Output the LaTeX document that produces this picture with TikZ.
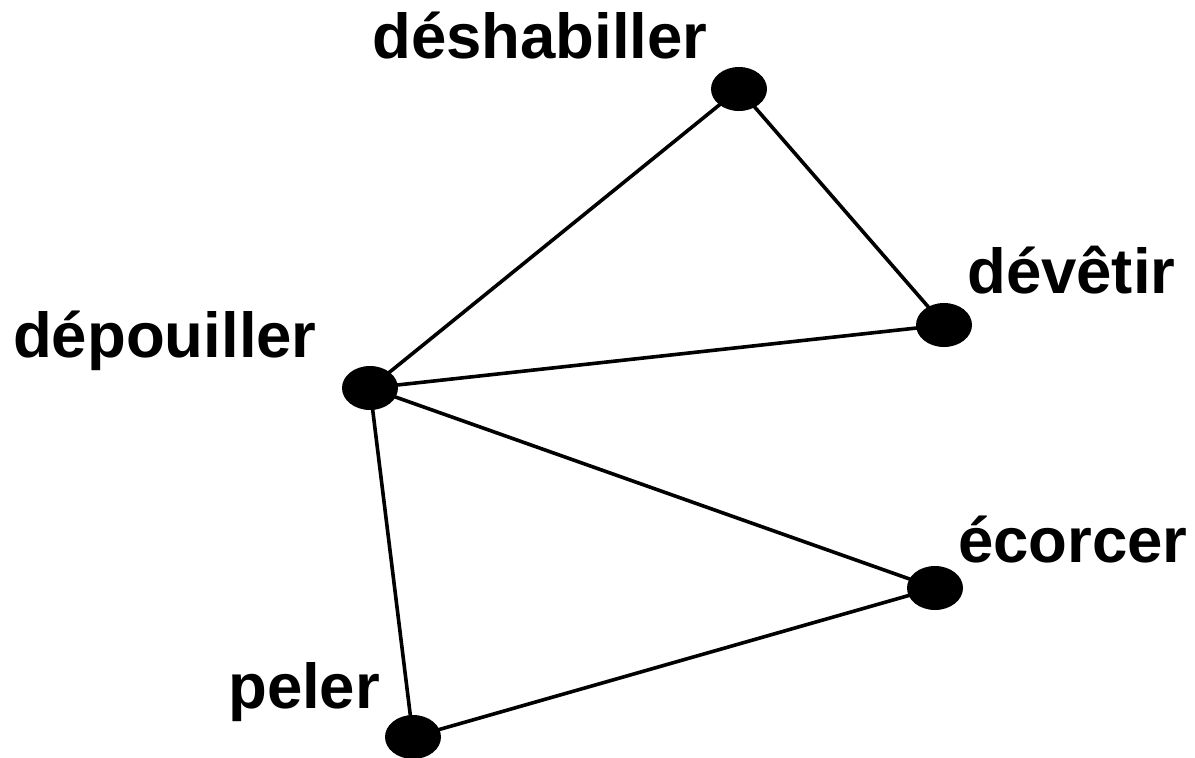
\documentclass[tikz,border=0pt]{standalone}
\usepackage{fontspec}
\setmainfont{Liberation Sans}
\usetikzlibrary{shapes.geometric}
\begin{document}
\begin{tikzpicture}[x=1pt,y=-1pt,
  vertex/.style={ellipse,fill=black,draw=none,minimum width=56pt,minimum height=44pt,inner sep=0pt},
  word/.style={anchor=base west,inner sep=0pt,font=\fontsize{63.5}{72}\selectfont\bfseries},
  edge/.style={line width=3.6pt}]
\useasboundingbox (0,0) rectangle (1195,758);
\node[vertex] (desh) at (739,89) {};
\node[vertex] (devt) at (944,325) {};
\node[vertex] (depo) at (370,388) {};
\node[vertex] (ecor) at (935,588) {};
\node[vertex] (pele) at (413,737) {};
\draw[edge] (depo.center) -- (desh.center);
\draw[edge] (desh.center) -- (devt.center);
\draw[edge] (depo.center) -- (devt.center);
\draw[edge] (depo.center) -- (ecor.center);
\draw[edge] (depo.center) -- (pele.center);
\draw[edge] (pele.center) -- (ecor.center);
\node[word] (ldesh) at (372,58) {déshabiller};
\node[word] (ldepo) at (13,357) {dépouiller};
\node[word] (ldevt) at (967,293) {dévêtir};
\node[word] (lecor) at (958,562) {écorcer};
\node[word] (lpele) at (228,708) {peler};
\end{tikzpicture}
\end{document}
